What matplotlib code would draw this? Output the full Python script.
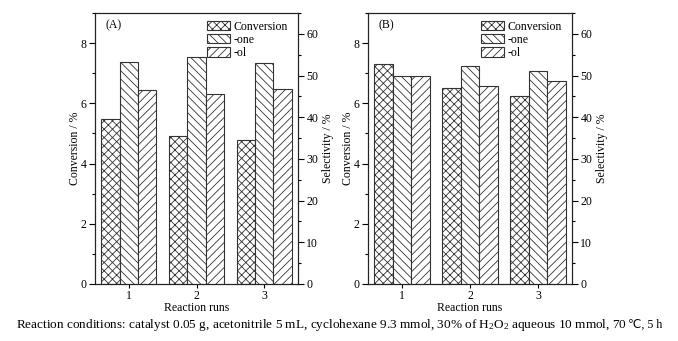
import matplotlib
matplotlib.use("Agg")
import matplotlib.pyplot as plt
import numpy as np
from matplotlib.ticker import MultipleLocator

plt.rcParams['font.family'] = ['Liberation Serif', 'DejaVu Sans']
plt.rcParams['mathtext.fontset'] = 'custom'
plt.rcParams['mathtext.rm'] = 'Liberation Serif'
plt.rcParams['mathtext.it'] = 'Liberation Serif:italic'
plt.rcParams['hatch.linewidth'] = 0.6

runs = [1, 2, 3]
run_labels = ['1', '2', '3']
series = ['Conversion', '-one', '-ol']

conv_A = [5.47, 4.91, 4.77]
one_A = [53.3, 54.5, 53.0]
ol_A = [46.5, 45.6, 46.8]

conv_B = [7.32, 6.52, 6.26]
one_B = [50.0, 52.4, 51.1]
ol_B = [50.0, 47.6, 48.8]

caption_1 = 'Reaction conditions: catalyst 0.05 g, acetonitrile 5 mL, cyclohexane 9.3 mmol, 30% of H$_2$O$_2$ aqueous 10 mmol, 70 '
caption_2 = '\u2103, 5 h'

panels = [('(A)', conv_A, one_A, ol_A), ('(B)', conv_B, one_B, ol_B)]

fig = plt.figure(figsize=(6.78, 3.41), dpi=100)
positions = [[95/678, 57/341, 203/678, 271/341], [368/678, 57/341, 204/678, 271/341]]

w = 0.27
edge = '#333333'
fs = 8.5
for (tag, conv, one, ol), pos in zip(panels, positions):
    ax = fig.add_axes(pos)
    ax2 = ax.twinx()
    x = np.array(runs, dtype=float)
    b1 = ax.bar(x - w, conv, width=w, facecolor='white', edgecolor=edge, hatch='xxxx', linewidth=0.8, label=series[0])
    b2 = ax2.bar(x, one, width=w, facecolor='white', edgecolor=edge, hatch='\\\\\\\\', linewidth=0.8, label=series[1])
    b3 = ax2.bar(x + w, ol, width=w, facecolor='white', edgecolor=edge, hatch='////', linewidth=0.8, label=series[2])
    ax.set_xlim(0.5, 3.5)
    ax.set_ylim(0, 9)
    ax2.set_ylim(0, 65)
    ax.set_xticks(runs)
    ax.set_xticklabels(run_labels)
    ax.yaxis.set_major_locator(MultipleLocator(2))
    ax.yaxis.set_minor_locator(MultipleLocator(1))
    ax2.yaxis.set_major_locator(MultipleLocator(10))
    ax2.yaxis.set_minor_locator(MultipleLocator(5))
    for a in (ax, ax2):
        a.tick_params(axis='y', which='major', direction='out', length=4, width=0.8, labelsize=fs, pad=2)
        a.tick_params(axis='y', which='minor', direction='out', length=2, width=0.8)
        for s in a.spines.values():
            s.set_linewidth(0.8)
            s.set_color('#222222')
    ax.tick_params(axis='x', which='major', direction='out', length=3, width=0.8, labelsize=fs, pad=1)
    ax.set_xlabel('Reaction runs', fontsize=fs, labelpad=0)
    ax.set_ylabel('Conversion / %', fontsize=fs, labelpad=0)
    ax2.set_ylabel('Selectivity / %', fontsize=fs, labelpad=3)
    ax.text(0.05, 0.975, tag, transform=ax.transAxes, ha='left', va='top', fontsize=fs)
    ax2.legend([b1, b2, b3], series, loc='upper right', bbox_to_anchor=(0.99, 1.0),
               frameon=False, fontsize=fs, handlelength=2.0, handleheight=0.85,
               handletextpad=0.3, labelspacing=0.1, borderaxespad=0.25)

cap_fs = 9.5
cap_y = (341 - 328) / 341
t1 = fig.text(0.0, cap_y, caption_1, ha='left', va='baseline', fontsize=cap_fs)
t2 = fig.text(0.0, cap_y, caption_2, ha='left', va='baseline', fontsize=cap_fs * 0.9,
              family=['Liberation Serif', 'DejaVu Sans'])
fig.canvas.draw()
r = fig.canvas.get_renderer()
e1 = t1.get_window_extent(r)
e2 = t2.get_window_extent(r)
total = e1.width + e2.width
x0 = (fig.bbox.width - total) / 2
t1.set_x(x0 / fig.bbox.width)
t2.set_x((x0 + e1.width) / fig.bbox.width)

fig.savefig('out.png', dpi=100)
